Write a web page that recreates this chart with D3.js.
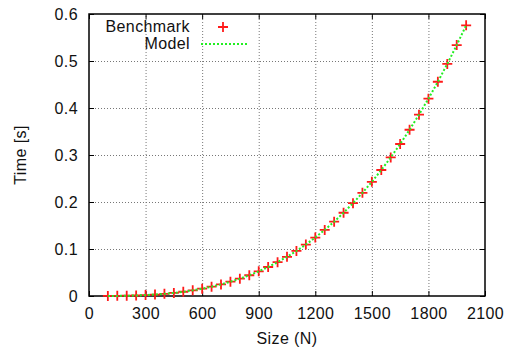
<!DOCTYPE html>
<html>
<head>
<meta charset="utf-8">
<script src="https://cdn.jsdelivr.net/npm/d3@7"></script>
<style>
  body { margin: 0; background: #fff; }
  text { font-family: "Liberation Sans", Arial, sans-serif; font-size: 16px; letter-spacing: 0.4px; fill: #111; }
</style>
</head>
<body>
<div id="chart"></div>
<script>
// ---- data ----
let sizes = [100,150,200,250,300,350,400,450,500,550,600,650,700,750,800,850,900,950,1000,
             1050,1100,1150,1200,1250,1300,1350,1400,1450,1500,1550,1600,1650,1700,1750,1800,1850,1900,1950,2000];
let benchmark = [0.0001,0.0003,0.0006,0.0011,0.0019,0.0031,0.0046,0.0066,0.0090,0.0120,0.0156,0.0198,0.0247,
                 0.0304,0.0369,0.0442,0.0525,0.0617,0.0720,0.0833,0.0958,0.1095,0.1244,0.1406,0.1582,0.1771,
                 0.1976,0.2195,0.2430,0.2681,0.2949,0.3234,0.3537,0.3859,0.4199,0.4559,0.4938,0.5339,0.5760];
let model = [0.0001,0.0002,0.0006,0.0011,0.0019,0.0031,0.0046,0.0066,0.0090,0.0120,0.0156,0.0198,0.0247,
             0.0304,0.0369,0.0442,0.0525,0.0617,0.0720,0.0833,0.0958,0.1095,0.1244,0.1406,0.1582,0.1771,
             0.1976,0.2195,0.2430,0.2681,0.2949,0.3234,0.3537,0.3859,0.4199,0.4559,0.4938,0.5339,0.5760];
let xTicks = [0,300,600,900,1200,1500,1800,2100];
let yTicks = [0,0.1,0.2,0.3,0.4,0.5,0.6];

let W = 512, H = 349;
let plot = {left: 89, right: 485, top: 14, bottom: 296};
let tickLen = 5;
let red = "#ff1a1a", green = "#22ee22";

let svg = d3.select("#chart").append("svg")
    .attr("width", W).attr("height", H);

let x = d3.scaleLinear().domain([0, 2100]).range([plot.left, plot.right]);
let y = d3.scaleLinear().domain([0, 0.6]).range([plot.bottom, plot.top]);

// grid lines
svg.append("g")
    .attr("transform", "translate(0," + plot.bottom + ")")
    .call(d3.axisBottom(x).tickValues(xTicks.slice(1, -1)).tickSize(-(plot.bottom - plot.top)).tickFormat(""))
    .call(g => g.select(".domain").remove())
    .call(g => g.selectAll("line").attr("stroke", "#777").attr("stroke-dasharray", "1,2"));
svg.append("g")
    .attr("transform", "translate(" + plot.left + ",0)")
    .call(d3.axisLeft(y).tickValues(yTicks.slice(1, -1)).tickSize(-(plot.right - plot.left)).tickFormat(""))
    .call(g => g.select(".domain").remove())
    .call(g => g.selectAll("line").attr("stroke", "#777").attr("stroke-dasharray", "1,2"));

// inward ticks on all four sides + labels
let bottomAxis = svg.append("g")
    .attr("transform", "translate(0," + plot.bottom + ")")
    .call(d3.axisBottom(x).tickValues(xTicks).tickSize(-tickLen).tickPadding(12).tickFormat(d3.format("d")));
let topAxis = svg.append("g")
    .attr("transform", "translate(0," + plot.top + ")")
    .call(d3.axisTop(x).tickValues(xTicks).tickSize(-tickLen).tickFormat(""));
let leftAxis = svg.append("g")
    .attr("transform", "translate(" + plot.left + ",0)")
    .call(d3.axisLeft(y).tickValues(yTicks).tickSize(-tickLen).tickPadding(11).tickFormat(d => d === 0 ? "0" : d3.format(".1f")(d)));
let rightAxis = svg.append("g")
    .attr("transform", "translate(" + plot.right + ",0)")
    .call(d3.axisRight(y).tickValues(yTicks).tickSize(-tickLen).tickFormat(""));

[bottomAxis, topAxis, leftAxis, rightAxis].forEach(g => {
    g.select(".domain").remove();
    g.selectAll("line").attr("stroke", "#000").attr("stroke-width", 1);
    g.selectAll("text").attr("font-family", null).attr("font-size", null).attr("fill", "#111");
});
bottomAxis.selectAll("text").attr("dy", "0.71em");

// border
svg.append("rect")
    .attr("x", plot.left).attr("y", plot.top)
    .attr("width", plot.right - plot.left).attr("height", plot.bottom - plot.top)
    .attr("fill", "none").attr("stroke", "#000").attr("stroke-width", 1.5);

// benchmark markers
let plusSize = 5;
let plus = svg.append("g").attr("stroke", red).attr("stroke-width", 1.8);
plus.selectAll("path")
    .data(benchmark)
    .enter()
    .append("path")
    .attr("d", (d, i) => {
        let cx = x(sizes[i]), cy = y(d);
        return "M" + (cx - plusSize) + "," + cy + "H" + (cx + plusSize) +
               "M" + cx + "," + (cy - plusSize) + "V" + (cy + plusSize);
    });

// model line (drawn over the markers)
let line = d3.line().x((d, i) => x(sizes[i])).y(d => y(d));
svg.append("path")
    .datum(model)
    .attr("d", line)
    .attr("fill", "none")
    .attr("stroke", green)
    .attr("stroke-width", 2)
    .attr("stroke-dasharray", "2,2");

// legend
svg.append("text").attr("x", 190).attr("y", 32).attr("text-anchor", "end").text("Benchmark");
svg.append("path")
    .attr("d", "M" + (223 - plusSize) + ",27H" + (223 + plusSize) + "M223," + (27 - plusSize) + "V" + (27 + plusSize))
    .attr("stroke", red).attr("stroke-width", 1.8);
svg.append("text").attr("x", 190).attr("y", 49).attr("text-anchor", "end").text("Model");
svg.append("line")
    .attr("x1", 201).attr("x2", 247).attr("y1", 44).attr("y2", 44)
    .attr("stroke", green).attr("stroke-width", 2).attr("stroke-dasharray", "2,2");

// axis titles
svg.append("text")
    .attr("x", (plot.left + plot.right) / 2).attr("y", 344)
    .attr("text-anchor", "middle").text("Size (N)");
svg.append("text")
    .attr("transform", "translate(26,155) rotate(-90)")
    .attr("text-anchor", "middle").text("Time [s]");
</script>
</body>
</html>
